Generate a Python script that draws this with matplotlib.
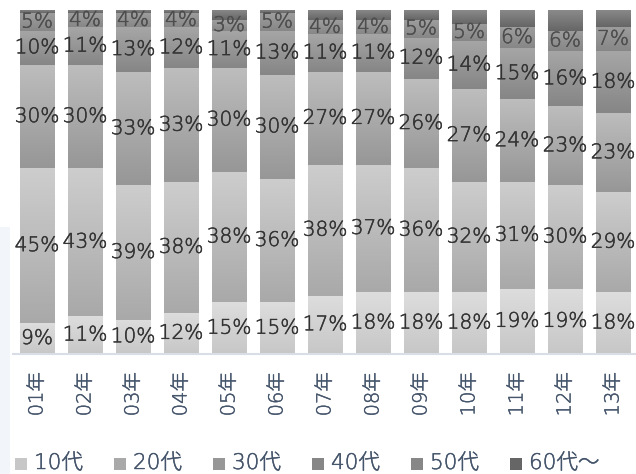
import numpy as np
import matplotlib
matplotlib.use("Agg")
import matplotlib.pyplot as plt
import matplotlib.patheffects as pe
from matplotlib.colors import LinearSegmentedColormap
from matplotlib.patches import Rectangle

plt.rcParams['font.family'] = ['DejaVu Sans', 'Noto Sans CJK JP']
plt.rcParams['font.weight'] = 'light'

# share of each age group per year (%)
years = ['01年', '02年', '03年', '04年', '05年', '06年', '07年',
         '08年', '09年', '10年', '11年', '12年', '13年']
groups = ['10代', '20代', '30代', '40代', '50代', '60代～']
teens = [9, 11, 10, 12, 15, 15, 17, 18, 18, 18, 19, 19, 18]
twenties = [45, 43, 39, 38, 38, 36, 38, 37, 36, 32, 31, 30, 29]
thirties = [30, 30, 33, 33, 30, 30, 27, 27, 26, 27, 24, 23, 23]
forties = [10, 11, 13, 12, 11, 13, 11, 11, 12, 14, 15, 16, 18]
fifties = [5, 4, 4, 4, 3, 5, 4, 4, 5, 5, 6, 6, 7]
sixties = [1, 1, 1, 1, 3, 1, 3, 3, 3, 4, 5, 6, 5]
series = [teens, twenties, thirties, forties, fifties, sixties]
label_color = ['#333333', '#333333', '#333333', '#333333', '#4d4d4d', None]

# (top, bottom) shade of each segment gradient
shades = [('#dddddd', '#c7c7c7'),
          ('#cdcdcd', '#a9a9a9'),
          ('#bdbdbd', '#979797'),
          ('#a6a6a6', '#868686'),
          ('#9d9d9d', '#878787'),
          ('#8a8a8a', '#666666')]


def thicken(color, lw=0.35):
    # the light face is a bit thin on its own, give it a matching outline
    return [pe.withStroke(linewidth=lw, foreground=color)]


fig = plt.figure(figsize=(6.36, 4.74), dpi=100)

# faint panel strip on the left edge
fig.add_artist(Rectangle((0, 0), 10 / 636, 247 / 474, transform=fig.transFigure,
                         facecolor='#f2f5f9', edgecolor='none', zorder=0))

ax = fig.add_axes([13 / 636, 1 - 354 / 474, 624 / 636, 344 / 474])
x = np.arange(len(years))
width = 0.71
bottom = np.zeros(len(years))
grad = np.linspace(0, 1, 64).reshape(-1, 1)

for vals, (c_top, c_bot), lc in zip(series, shades, label_color):
    vals = np.array(vals, dtype=float)
    bars = ax.bar(x, vals, width, bottom=bottom, color=c_bot, linewidth=0)
    cmap = LinearSegmentedColormap.from_list('seg', [c_bot, c_top])
    for b in bars:
        x0, y0 = b.get_x(), b.get_y()
        im = ax.imshow(grad, cmap=cmap, aspect='auto', origin='lower',
                       extent=[x0, x0 + b.get_width(), y0, y0 + b.get_height()],
                       zorder=2)
        im.set_clip_path(b)
    if lc:
        for xi, v, b0 in zip(x, vals, bottom):
            ax.text(xi, b0 + v / 2, f'{int(v)}%', ha='center', va='center',
                    fontsize=14.5, color=lc, zorder=5, path_effects=thicken(lc))
    bottom += vals

ax.set_xlim(-0.5, len(years) - 0.5)
ax.set_ylim(0, 100)
ax.set_yticks([])
ax.set_xticks(x)
ax.set_xticklabels(years, rotation=90, fontsize=14, color='#44546a')
for t in ax.get_xticklabels():
    t.set_path_effects(thicken('#44546a', 0.3))
ax.tick_params(axis='x', length=0, pad=13)
for s in ['top', 'right', 'left']:
    ax.spines[s].set_visible(False)
ax.spines['bottom'].set_color('#d9dee6')
ax.spines['bottom'].set_linewidth(1.5)
ax.spines['bottom'].set_zorder(6)

# legend along the bottom
for i, (name, (c_top, c_bot)) in enumerate(zip(groups, shades)):
    lx = 15 + 99 * i
    fig.add_artist(Rectangle((lx / 636, 1 - 470 / 474), 12 / 636, 12 / 474,
                             transform=fig.transFigure,
                             facecolor=c_bot, edgecolor='none'))
    fig.text((lx + 19) / 636, 1 - 463 / 474, name, ha='left', va='center',
             fontsize=15.5, color='#44546a', path_effects=thicken('#44546a', 0.3))

fig.savefig('out.png', dpi=100)
